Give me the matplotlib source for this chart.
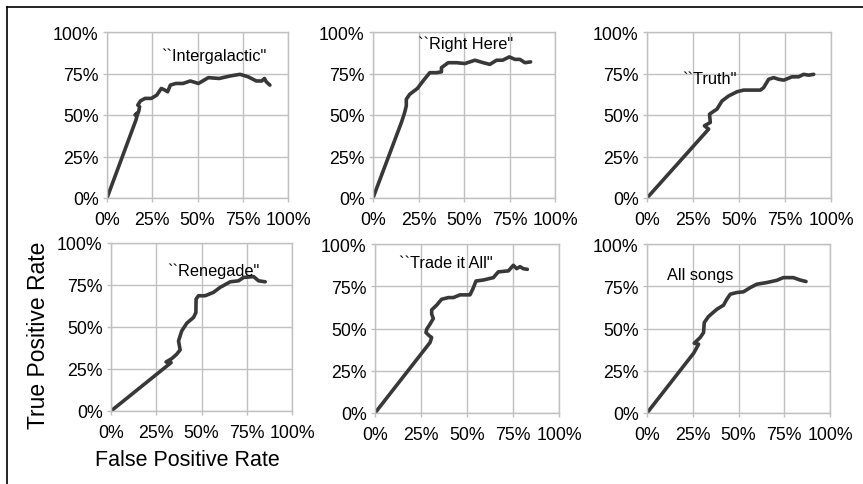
import matplotlib
matplotlib.use("Agg")
import matplotlib.pyplot as plt
from matplotlib.lines import Line2D

plt.rcParams['font.family'] = ['Liberation Sans', 'DejaVu Sans']

# ROC curves per song (false positive rate, true positive rate), in percent
titles = ["``Intergalactic\"", "``Right Here\"", "``Truth\"",
          "``Renegade\"", "``Trade it All\"", "All songs"]

fpr_intergalactic = [0, 16, 17, 15.5, 17.5, 18, 17, 18.5, 21, 24.5, 27.5, 30, 32, 33.5,
                     35, 38, 42, 46, 50.5, 56, 62, 68, 73.5, 78, 82.5, 85.5, 87, 88, 90]
tpr_intergalactic = [0, 47, 51, 50, 52, 55, 56, 58.5, 60, 60, 62, 66, 65, 64,
                     68, 69, 69, 70.5, 69, 72.5, 72, 73.5, 74.5, 73, 70.5, 70.5, 72, 70, 68]

fpr_right_here = [0, 15.6, 17.4, 18.3, 18.3, 20.2, 24.4, 27.5, 31.2, 34.9, 37.6, 37.6,
                  41.3, 45.9, 50.5, 56, 60.6, 64.2, 67.9, 71.2, 74.9, 78, 80.7, 83.5, 86.6]
tpr_right_here = [0, 45.5, 51.5, 55.5, 59.5, 62.5, 66, 70.5, 75.5, 75.5, 76, 78.5,
                  81.5, 81.5, 81, 83, 81.5, 80.5, 83, 83, 85, 83.5, 83.5, 81.5, 82]

fpr_truth = [0, 33.5, 31.2, 34.4, 34, 35.9, 38, 40.8, 44.4, 48.9, 52.5, 57.1, 61.6, 63.4,
             66.1, 68.8, 71.6, 74.3, 78.8, 82.4, 85.1, 87.9, 90.6]
tpr_truth = [0, 41.5, 43.5, 45.5, 50.5, 52, 53.5, 58.5, 61.5, 64, 65, 65, 65, 66.5,
             71.5, 72.5, 71.5, 71, 73, 73, 74.5, 74, 74.5]

fpr_renegade = [0, 33.2, 30.4, 33.6, 36.3, 38.2, 37.3, 39.1, 41.9, 45.6, 46.9, 47, 48.3,
                52, 56.6, 60.3, 65.9, 70.5, 73.2, 78.8, 81.5, 85.2]
tpr_renegade = [0, 28.8, 29.2, 31.2, 33.8, 36.4, 41.7, 47.7, 52.3, 55.7, 58.6, 66.6, 68.6,
                68.6, 70.6, 73.6, 76.9, 77.5, 79.5, 80, 77.5, 76.9]

fpr_trade = [0, 29.9, 30.8, 29.5, 27.7, 28.1, 29.9, 31.7, 30.8, 30.8, 33.5, 36.2, 39.9,
             42.6, 46.2, 51.6, 53.1, 54.9, 58.9, 64.3, 67, 72.5, 75.2, 77, 78.8, 80.6, 82.8]
tpr_trade = [0, 41.7, 44.7, 45.7, 47.6, 49.6, 52.6, 55.9, 58.5, 61, 63.8, 67.3, 68.3,
             68.3, 69.9, 69.9, 73.2, 78.1, 78.7, 80.1, 83.5, 84.1, 87.4, 85.4, 86.6, 85.4, 85]

fpr_all = [0, 25.5, 28.2, 25.8, 29.1, 30.9, 31.3, 33.6, 38.2, 41.8, 43.6, 45.5, 49.1,
           52.7, 56.4, 60, 65.5, 70.9, 74.5, 80, 83.6, 86.9]
tpr_all = [0, 35.4, 40.7, 41.3, 44.7, 47.6, 53.5, 57.1, 61.4, 63.8, 67.3, 70.3, 71.3,
           71.7, 74.2, 76.2, 77.2, 78.5, 80.1, 80.1, 78.7, 77.8]

curves = [(fpr_intergalactic, tpr_intergalactic), (fpr_right_here, tpr_right_here),
          (fpr_truth, tpr_truth), (fpr_renegade, tpr_renegade),
          (fpr_trade, tpr_trade), (fpr_all, tpr_all)]

ticks = [0, 25, 50, 75, 100]
tick_labels = ["0%", "25%", "50%", "75%", "100%"]

# where the song name sits inside each panel (axes fraction)
title_pos = [(0.30, 0.86), (0.247, 0.93), (0.19, 0.72),
             (0.31, 0.84), (0.13, 0.89), (0.11, 0.82)]

# panel boxes in pixels: left, top, right, bottom
W, H = 863, 485
boxes = [(107, 33, 288, 199), (373, 33, 555, 199), (647, 33, 831, 199),
         (111, 244, 292, 412), (375, 245, 559, 414), (647, 245, 830, 414)]

fig = plt.figure(figsize=(W / 100, H / 100), dpi=100)
fig.patch.set_facecolor("white")

grid_c = "#c0c0c0"
for (l, t, r, b), (fx, ty), name, (tx, tyy) in zip(boxes, curves, titles, title_pos):
    ax = fig.add_axes([l / W, 1 - b / H, (r - l) / W, (b - t) / H])
    ax.set_xlim(0, 100)
    ax.set_ylim(0, 100)
    ax.set_xticks(ticks)
    ax.set_yticks(ticks)
    ax.set_xticklabels(tick_labels)
    ax.set_yticklabels(tick_labels)
    ax.grid(True, color=grid_c, linewidth=1.0)
    ax.set_axisbelow(True)
    for s in ax.spines.values():
        s.set_color(grid_c)
        s.set_linewidth(1.0)
    ax.tick_params(colors=grid_c, labelcolor="black", labelsize=12.8,
                   length=3, width=1.0, direction="out")
    ax.tick_params(axis="x", pad=6.5)
    ax.tick_params(axis="y", pad=3)
    ax.plot(fx, ty, color="#383838", linewidth=2.6, solid_capstyle="round",
            solid_joinstyle="round")
    ax.text(tx, tyy, name, transform=ax.transAxes, fontsize=11.8,
            ha="left", va="center")

fig.text(39 / W, 1 - 335 / H, "True Positive Rate", rotation=90,
         ha="center", va="center", fontsize=16.5)
fig.text(187 / W, 1 - 461 / H, "False Positive Rate",
         ha="center", va="center", fontsize=15.5)

# frame lines on top and left edge
fig.add_artist(Line2D([7 / W, 1], [1 - 8 / H, 1 - 8 / H], color="black", linewidth=1.2))
fig.add_artist(Line2D([7 / W, 7 / W], [0, 1 - 8 / H], color="black", linewidth=1.2))

fig.savefig("out.png", dpi=100)
